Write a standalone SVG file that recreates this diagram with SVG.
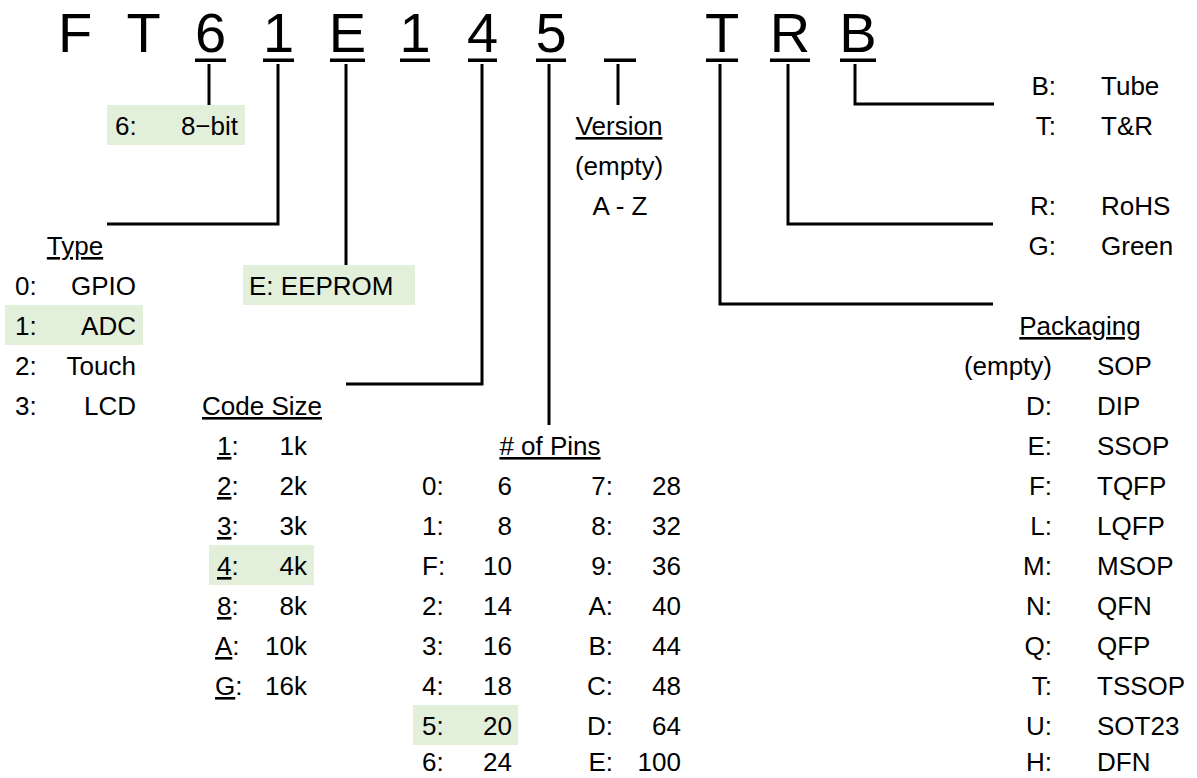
<svg xmlns="http://www.w3.org/2000/svg" width="1197" height="778" viewBox="0 0 1197 778">
<style>
text{font-family:"Liberation Sans",Arial,sans-serif;fill:#000;}
.t{font-size:56px;text-anchor:middle;}
.s{font-size:26px;}
.r{text-anchor:end;}
.m{text-anchor:middle;}
.u{text-decoration:underline;}
.hl{fill:#E2EFDA;}
.ln{fill:none;stroke:#000;stroke-width:3;}
</style>
<rect width="1197" height="778" fill="#fff"/>
<g id="title">
<text class="t" x="75" y="52">F</text>
<text class="t" x="143.5" y="52">T</text>
<text class="t" x="210.5" y="52">6</text>
<text class="t" x="278.5" y="52">1</text>
<text class="t" x="347.5" y="52">E</text>
<text class="t" x="415" y="52">1</text>
<text class="t" x="482.5" y="52">4</text>
<text class="t" x="551" y="52">5</text>
<text class="t" x="722" y="52">T</text>
<text class="t" x="790" y="52">R</text>
<text class="t" x="858" y="52">B</text>
<g fill="#000">
<rect x="195" y="58.5" width="31" height="3.5"/>
<rect x="263" y="58.5" width="31" height="3.5"/>
<rect x="330" y="58.5" width="35" height="3.5"/>
<rect x="400" y="58.5" width="30" height="3.5"/>
<rect x="468" y="58.5" width="29" height="3.5"/>
<rect x="536" y="58.5" width="30" height="3.5"/>
<rect x="604" y="58.5" width="32" height="3.5"/>
<rect x="706" y="58.5" width="32" height="3.5"/>
<rect x="770" y="58.5" width="40" height="3.5"/>
<rect x="840" y="58.5" width="36" height="3.5"/>
</g>
</g>
<g id="connectors">
<path class="ln" d="M209 64V105"/>
<path class="ln" d="M278 64V224H107"/>
<path class="ln" d="M346 64V265"/>
<path class="ln" d="M482 64V384H346"/>
<path class="ln" d="M549 64V425"/>
<path class="ln" d="M618 64V105"/>
<path class="ln" d="M720 64V304H993"/>
<path class="ln" d="M788 64V224H993"/>
<path class="ln" d="M855 64V104H994"/>
</g>
<g id="bits">
<rect class="hl" x="107" y="105" width="138" height="40"/>
<text class="s" x="115" y="135">6:</text>
<text class="s r" x="238" y="135">8−bit</text>
</g>
<g id="type">
<rect class="hl" x="5" y="305" width="138" height="40"/>
<text class="s m u" x="75" y="255">Type</text>
<text class="s" x="15" y="295">0:</text><text class="s r" x="136" y="295">GPIO</text>
<text class="s" x="15" y="335">1:</text><text class="s r" x="136" y="335">ADC</text>
<text class="s" x="15" y="375">2:</text><text class="s r" x="136" y="375">Touch</text>
<text class="s" x="15" y="415">3:</text><text class="s r" x="136" y="415">LCD</text>
</g>
<g id="eeprom">
<rect class="hl" x="243" y="265" width="172" height="40"/>
<text class="s" x="249" y="295">E: EEPROM</text>
</g>
<g id="codesize">
<rect class="hl" x="209" y="545" width="105" height="40"/>
<text class="s u" x="202" y="415">Code Size</text>
<text class="s" x="217" y="455"><tspan class="u">1</tspan>:</text><text class="s r" x="307" y="455">1k</text>
<text class="s" x="217" y="495"><tspan class="u">2</tspan>:</text><text class="s r" x="307" y="495">2k</text>
<text class="s" x="217" y="535"><tspan class="u">3</tspan>:</text><text class="s r" x="307" y="535">3k</text>
<text class="s" x="217" y="575"><tspan class="u">4</tspan>:</text><text class="s r" x="307" y="575">4k</text>
<text class="s" x="217" y="615"><tspan class="u">8</tspan>:</text><text class="s r" x="307" y="615">8k</text>
<text class="s" x="215" y="655"><tspan class="u">A</tspan>:</text><text class="s r" x="307" y="655">10k</text>
<text class="s" x="215" y="695"><tspan class="u">G</tspan>:</text><text class="s r" x="307" y="695">16k</text>
</g>
<g id="pins">
<rect class="hl" x="413" y="705" width="105" height="40"/>
<text class="s m u" x="550" y="455"># of Pins</text>
<text class="s" x="422" y="495">0:</text><text class="s r" x="512" y="495">6</text>
<text class="s" x="422" y="535">1:</text><text class="s r" x="512" y="535">8</text>
<text class="s" x="422" y="575">F:</text><text class="s r" x="512" y="575">10</text>
<text class="s" x="422" y="615">2:</text><text class="s r" x="512" y="615">14</text>
<text class="s" x="422" y="655">3:</text><text class="s r" x="512" y="655">16</text>
<text class="s" x="422" y="695">4:</text><text class="s r" x="512" y="695">18</text>
<text class="s" x="422" y="735">5:</text><text class="s r" x="512" y="735">20</text>
<text class="s" x="422" y="771">6:</text><text class="s r" x="512" y="771">24</text>
<text class="s r" x="613" y="495">7:</text><text class="s r" x="681" y="495">28</text>
<text class="s r" x="613" y="535">8:</text><text class="s r" x="681" y="535">32</text>
<text class="s r" x="613" y="575">9:</text><text class="s r" x="681" y="575">36</text>
<text class="s r" x="613" y="615">A:</text><text class="s r" x="681" y="615">40</text>
<text class="s r" x="613" y="655">B:</text><text class="s r" x="681" y="655">44</text>
<text class="s r" x="613" y="695">C:</text><text class="s r" x="681" y="695">48</text>
<text class="s r" x="613" y="735">D:</text><text class="s r" x="681" y="735">64</text>
<text class="s r" x="613" y="771">E:</text><text class="s r" x="681" y="771">100</text>
</g>
<g id="version">
<text class="s m u" x="619" y="135">Version</text>
<text class="s m" x="619" y="175">(empty)</text>
<text class="s m" x="620" y="215">A - Z</text>
</g>
<g id="shipping">
<text class="s r" x="1056" y="95">B:</text><text class="s" x="1101" y="95">Tube</text>
<text class="s r" x="1056" y="135">T:</text><text class="s" x="1101" y="135">T&amp;R</text>
</g>
<g id="rohs">
<text class="s r" x="1056" y="215">R:</text><text class="s" x="1101" y="215">RoHS</text>
<text class="s r" x="1056" y="255">G:</text><text class="s" x="1101" y="255">Green</text>
</g>
<g id="packaging">
<text class="s m u" x="1080" y="335">Packaging</text>
<text class="s r" x="1052" y="375">(empty)</text><text class="s" x="1097" y="375">SOP</text>
<text class="s r" x="1052" y="415">D:</text><text class="s" x="1097" y="415">DIP</text>
<text class="s r" x="1052" y="455">E:</text><text class="s" x="1097" y="455">SSOP</text>
<text class="s r" x="1052" y="495">F:</text><text class="s" x="1097" y="495">TQFP</text>
<text class="s r" x="1052" y="535">L:</text><text class="s" x="1097" y="535">LQFP</text>
<text class="s r" x="1052" y="575">M:</text><text class="s" x="1097" y="575">MSOP</text>
<text class="s r" x="1052" y="615">N:</text><text class="s" x="1097" y="615">QFN</text>
<text class="s r" x="1052" y="655">Q:</text><text class="s" x="1097" y="655">QFP</text>
<text class="s r" x="1052" y="695">T:</text><text class="s" x="1097" y="695">TSSOP</text>
<text class="s r" x="1052" y="735">U:</text><text class="s" x="1097" y="735">SOT23</text>
<text class="s r" x="1052" y="771">H:</text><text class="s" x="1097" y="771">DFN</text>
</g>
</svg>
